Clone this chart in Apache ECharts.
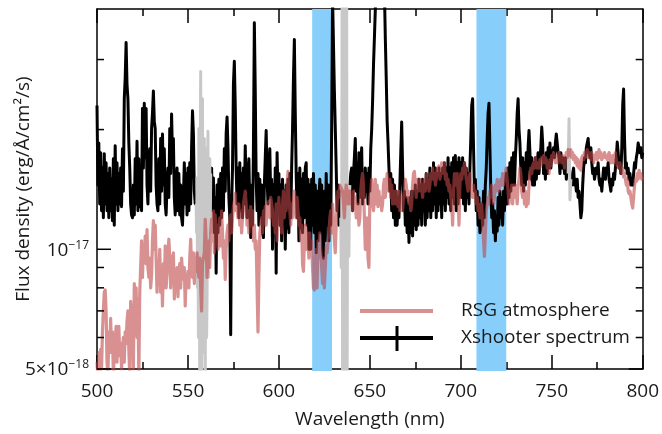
<!DOCTYPE html>
<html><head><meta charset="utf-8">
<script src="https://cdn.jsdelivr.net/npm/echarts@6/dist/echarts.min.js"></script>
<style>html,body{margin:0;padding:0;background:#fff}#c{width:662px;height:434px}</style>
</head><body><div id="c"></div>
<script>
// Wavelength grid (nm): 500 to 800 in 0.5 nm steps
const waveStart = 500;
const waveStep = 0.5;

// Xshooter spectrum, flux in units of 1e-17 erg/Å/cm²/s (null = masked region)
const xshooterFlux = [
2.30,1.45,1.85,1.30,1.75,1.25,1.60,1.20,1.74,1.30,
1.65,1.25,1.55,1.20,1.60,1.25,1.50,1.18,1.69,1.15,
1.82,1.30,1.65,1.25,1.55,1.30,1.60,1.28,1.79,1.40,
2.39,2.70,3.31,2.60,2.39,1.85,1.60,1.30,1.22,1.20,
1.45,1.22,1.69,1.30,1.87,1.25,1.69,1.28,1.60,1.25,
2.26,1.60,2.33,1.70,2.26,1.45,1.30,1.65,1.79,1.40,
2.01,2.20,2.50,2.10,2.01,1.45,1.30,1.25,1.69,1.30,
1.90,1.40,1.95,1.45,1.79,1.30,1.22,1.45,1.60,1.35,
2.01,1.55,2.19,1.70,1.90,1.35,1.22,1.45,1.60,1.25,
1.55,1.22,1.45,1.20,1.15,1.35,1.65,1.30,1.55,1.22,
1.60,1.25,1.65,1.30,1.80,2.23,1.95,1.40,1.30,1.30,
null,null,null,null,null,null,null,null,null,null,
null,null,null,null,null,1.55,1.60,1.25,1.51,1.10,
1.35,0.87,1.45,1.10,1.50,1.15,1.55,1.20,1.60,1.25,
1.79,1.40,1.95,2.15,1.80,1.35,1.20,0.61,1.30,1.60,
2.60,2.97,2.30,1.60,1.30,1.60,1.20,1.65,1.25,1.55,
1.20,1.60,1.30,1.82,1.40,1.20,1.55,1.69,1.25,1.07,
1.45,1.15,1.80,3.71,2.50,1.50,1.25,1.55,1.15,1.50,
1.20,1.45,1.10,1.07,1.45,1.70,1.99,1.50,1.30,1.60,
1.79,1.35,1.50,1.00,1.45,1.20,1.60,0.87,1.75,1.35,
1.55,1.15,1.45,1.05,1.50,1.20,1.40,1.00,1.45,1.13,
1.50,1.10,1.55,1.20,1.60,2.00,2.70,3.37,2.20,1.55,
1.20,1.55,1.05,1.60,1.13,1.50,1.10,1.55,1.20,1.60,
1.65,1.15,1.50,1.00,1.45,1.00,1.50,1.15,1.55,1.10,
1.45,0.98,1.40,1.05,1.35,1.50,1.10,1.45,1.00,0.95,
1.40,1.05,1.55,1.15,1.45,1.05,1.45,1.15,2.00,4.30,
4.30,2.50,2.01,1.60,1.25,1.45,1.15,1.40,1.20,null,
null,null,null,null,null,null,null,null,1.45,1.55,
1.60,1.25,1.55,1.70,1.90,1.40,1.65,1.30,1.75,1.35,
1.60,1.80,1.30,1.55,1.35,1.60,1.40,1.55,1.30,1.60,
1.40,1.79,2.00,2.35,2.90,3.40,4.00,4.80,5.80,7.00,
8.50,9.50,9.50,9.00,7.50,6.00,4.50,3.40,2.70,2.10,
1.85,1.60,1.40,1.55,1.25,1.50,1.20,1.45,1.15,1.40,
1.15,1.35,1.20,1.45,1.75,2.09,1.60,1.25,1.40,1.15,
1.35,1.10,1.30,1.04,1.35,1.10,1.40,1.08,1.40,1.15,
1.45,1.12,1.40,1.15,1.50,1.20,1.45,1.15,1.50,1.25,
1.45,1.15,1.55,1.20,1.50,1.25,1.60,1.20,1.55,1.25,
1.65,1.30,1.60,1.20,1.55,1.25,1.60,1.30,1.55,1.20,
1.60,1.30,1.65,1.25,1.60,1.35,1.70,1.30,1.60,1.25,
1.65,1.35,1.70,1.30,1.72,1.25,1.65,1.30,1.70,1.35,
1.65,1.35,1.70,1.30,1.65,1.25,1.60,1.35,1.55,1.30,
1.60,1.90,2.30,2.39,1.80,1.40,1.50,1.25,1.40,1.15,
1.35,1.10,1.13,1.30,1.15,1.40,1.20,1.45,1.60,1.90,
2.20,2.33,1.80,1.40,1.20,1.30,1.10,1.25,1.05,1.20,
1.11,1.35,1.15,1.40,1.20,1.35,1.15,1.40,1.25,1.45,
1.55,1.30,1.60,1.35,1.65,1.40,1.70,1.45,1.75,1.45,
1.70,1.90,2.20,2.39,2.00,1.85,1.60,1.45,1.70,1.40,
1.65,1.45,1.75,1.50,1.80,1.99,1.75,1.50,1.70,1.45,
1.65,1.45,1.70,1.50,1.65,1.75,1.55,1.70,1.80,2.03,
1.85,1.55,1.70,1.50,1.75,1.55,1.80,1.60,1.85,1.60,
1.70,1.75,1.80,1.70,1.85,1.95,1.93,1.75,1.70,1.55,
1.75,1.60,1.70,1.65,1.55,1.70,1.50,1.60,1.55,null,
null,1.50,1.45,1.55,1.60,1.45,1.50,1.40,1.50,1.35,
1.40,1.30,1.20,1.25,1.45,1.60,1.70,1.65,1.80,1.85,
1.90,1.75,1.70,1.80,1.65,1.55,1.60,1.50,1.55,1.60,
1.55,1.65,1.50,1.45,1.50,1.40,1.50,1.60,1.55,1.50,
1.60,1.55,1.65,1.50,1.45,1.40,1.50,1.45,1.55,1.50,
1.60,1.70,1.86,1.75,1.60,1.65,1.55,1.80,2.30,2.53,
1.90,1.60,1.65,1.55,1.60,1.50,1.55,1.45,1.50,1.45,
1.55,1.65,1.60,1.70,1.75,1.85,1.86,1.75,1.80,1.70,
1.75];

// Masked (grey) parts of the Xshooter spectrum (null separates segments)
const maskedWave = [
  554.5,554.75,555,555.25,555.5,555.75,556,556.25,556.5,556.75,557,557.25,557.5,557.75,558,558.25,
  558.5,558.75,559,559.25,559.5,559.75,560,560.25,560.5,560.75,561,561.25,561.5,561.75,562,562.25,562.5,
  600,
  634,634.25,634.5,634.75,635,635.25,635.5,635.75,636,636.25,636.5,636.75,637,637.25,637.5,637.75,
  638,638.25,638.5,638.75,639,
  700,
  759,759.5,760,760.5];
const maskedFlux = [
  1.30,1.10,1.51,0.80,1.20,0.60,2.01,0.90,0.45,1.60,2.80,1.20,0.45,1.50,2.39,0.70,
  0.55,1.40,1.90,0.80,0.45,1.30,1.79,0.60,0.76,1.50,1.98,0.85,1.00,1.60,1.69,1.10,1.55,
  null,
  1.20,0.90,1.00,4.50,0.45,4.50,0.45,4.50,0.45,4.50,0.45,4.50,0.45,4.50,0.45,1.40,
  0.96,1.30,0.96,1.35,1.45,
  null,
  1.55,2.13,1.33,1.50];

// RSG atmosphere model, same grid and units
const rsgFlux = [
0.52,0.48,0.55,0.47,0.56,0.50,0.62,0.70,0.78,0.79,
0.70,0.52,0.48,0.62,0.55,0.67,0.55,0.62,0.48,0.55,
0.58,0.64,0.52,0.60,0.64,0.54,0.58,0.50,0.56,0.60,
0.52,0.62,0.58,0.66,0.70,0.56,0.48,0.74,0.60,0.72,
0.50,0.82,0.70,0.80,0.60,0.75,0.48,0.78,0.90,1.05,
0.85,1.02,0.95,1.08,0.92,1.12,0.90,0.85,0.95,0.80,
0.86,1.05,1.18,1.00,1.15,0.95,0.78,0.90,0.85,1.00,
0.78,0.88,0.72,0.92,0.80,1.02,0.80,0.88,0.98,1.06,
0.95,0.80,0.96,0.85,0.98,0.75,0.88,0.80,0.90,0.76,
0.88,0.92,0.80,0.95,0.88,0.84,0.90,0.72,0.86,0.82,
0.88,0.80,0.95,1.06,0.90,0.85,0.98,0.82,0.95,0.88,
0.98,0.90,0.85,0.95,0.80,0.70,0.92,0.92,0.98,1.19,
1.05,0.85,0.95,1.05,0.90,1.10,1.19,1.05,1.25,0.98,
1.22,1.05,1.15,1.00,1.10,1.20,1.02,1.25,1.10,0.95,
1.05,0.84,1.00,1.10,1.15,1.05,1.18,1.22,1.10,1.20,
1.28,1.32,1.38,1.25,1.30,1.20,1.30,1.15,1.25,1.10,
1.20,1.30,1.35,1.40,1.30,1.15,1.25,1.10,1.20,1.28,
1.15,1.25,1.05,1.15,1.00,1.05,0.80,0.62,0.85,1.10,
1.15,1.20,1.10,1.25,1.20,1.28,1.15,1.30,1.25,1.32,
1.20,1.35,1.30,1.25,1.15,1.20,1.10,1.30,1.05,1.25,
1.35,1.15,1.28,1.10,1.30,1.40,1.20,1.35,1.25,1.45,
1.57,1.35,1.25,1.15,1.30,1.20,1.35,1.40,1.30,1.20,
1.35,1.25,1.15,1.20,1.05,1.15,0.92,0.88,1.05,1.15,
1.00,1.10,1.05,0.95,1.10,0.98,1.05,0.90,0.80,0.79,
0.95,1.00,0.80,1.05,0.95,1.10,1.00,0.90,0.82,0.95,
0.80,0.90,1.02,0.98,1.05,1.10,1.20,1.25,1.10,1.30,
1.20,1.05,0.98,1.15,1.30,1.40,1.35,1.45,1.45,1.45,
1.40,1.30,1.20,1.35,1.45,1.40,1.30,1.35,1.40,1.30,
1.35,1.25,1.40,1.30,1.35,1.20,1.30,1.25,1.15,1.20,
1.40,1.50,1.55,1.45,1.20,1.00,1.05,1.20,0.95,0.90,
1.35,1.40,1.50,1.30,1.25,1.35,1.50,1.30,1.45,1.28,
1.40,1.30,1.35,1.25,1.30,1.45,1.50,1.35,1.45,1.55,
1.45,1.40,1.50,1.35,1.45,1.30,1.40,1.35,1.30,1.40,
1.35,1.28,1.40,1.25,1.35,1.30,1.25,1.35,1.40,1.50,
1.45,1.35,1.40,1.30,1.35,1.25,1.30,1.45,1.55,1.57,
1.45,1.35,1.50,1.40,1.45,1.50,1.40,1.45,1.35,1.45,
1.50,1.40,1.55,1.45,1.50,1.40,1.45,1.55,1.50,1.60,
1.50,1.55,1.45,1.50,1.60,1.55,1.62,1.50,1.55,1.65,
1.60,1.55,1.65,1.50,1.55,1.45,1.50,1.40,1.45,1.35,
1.30,1.15,1.40,1.55,1.50,1.45,1.55,1.40,1.15,1.45,
1.55,1.50,1.60,1.55,1.65,1.60,1.50,1.45,1.40,1.50,
1.55,1.45,1.40,1.35,1.45,1.35,1.40,1.30,1.35,1.25,
1.30,1.20,1.25,1.30,1.15,1.05,0.96,1.10,1.25,1.30,
1.35,1.30,1.40,1.35,1.45,1.40,1.30,1.35,1.45,1.40,
1.50,1.45,1.40,1.45,1.50,1.45,1.55,1.45,1.50,1.55,
1.60,1.50,1.40,1.30,1.40,1.35,1.45,1.30,1.45,1.35,
1.45,1.40,1.30,1.45,1.50,1.60,1.55,1.40,1.35,1.45,
1.30,1.40,1.28,1.35,1.30,1.45,1.55,1.60,1.55,1.62,
1.65,1.60,1.70,1.62,1.60,1.65,1.60,1.68,1.62,1.70,
1.65,1.72,1.65,1.70,1.68,1.60,1.65,1.55,1.68,1.62,
1.72,1.68,1.75,1.70,1.65,1.70,1.72,1.65,1.75,1.68,
1.70,1.65,1.72,1.68,1.60,1.70,1.75,1.70,1.78,1.72,
1.75,1.78,1.70,1.75,1.68,1.72,1.65,1.70,1.62,1.68,
1.60,1.65,1.58,1.70,1.72,1.68,1.75,1.70,1.72,1.78,
1.70,1.75,1.72,1.68,1.75,1.70,1.65,1.72,1.70,1.75,
1.68,1.72,1.78,1.70,1.75,1.68,1.72,1.70,1.75,1.72,
1.70,1.68,1.72,1.75,1.70,1.65,1.68,1.72,1.65,1.70,
1.75,1.68,1.62,1.65,1.60,1.65,1.58,1.55,1.60,1.52,
1.55,1.50,1.45,1.50,1.40,1.38,1.40,1.35,1.30,1.27,
1.35,1.45,1.50,1.48,1.55,1.50,1.58,1.52,1.55,1.50,
1.52];

// Highlighted wavelength bands (nm)
const bandStart = [618.3, 708.6];
const bandEnd = [629.2, 725.0];

// Y ticks (units of 1e-17)
const yTickValues = [0.5, 0.6, 0.7, 0.8, 0.9, 1, 2, 3];
const yLabelValues = [0.5, 1];
const yLabelTexts = ['{b|5×10}{s|−18}', '{b|10}{s|−17}'];

const wavelengths = xshooterFlux.map((_, i) => waveStart + i * waveStep);
const FONT = 'Open Sans';
const TXT = '#1a1a1a';
const PINK = 'rgba(190,70,70,0.6)';

const chart = echarts.init(document.getElementById('c'), null, {renderer: 'canvas'});

const axisCommon = {
  type: 'value', min: 500, max: 800, interval: 50,
  axisLine: {show: true, onZero: false, lineStyle: {color: '#000', width: 1.5}},
  axisTick: {show: true, inside: true, length: 14, lineStyle: {color: '#000', width: 1.5}},
  minorTick: {show: true, splitNumber: 2, length: 7, lineStyle: {color: '#000', width: 1.5}},
  splitLine: {show: false}, minorSplitLine: {show: false}
};
const yCommon = {
  type: 'log', logBase: 10, min: 0.5, max: 4.02,
  axisLine: {show: true, onZero: false, lineStyle: {color: '#000', width: 1.5}},
  axisTick: {show: false}, axisLabel: {show: false},
  splitLine: {show: false}, minorTick: {show: false}, minorSplitLine: {show: false}
};

chart.setOption({
  animation: false,
  backgroundColor: '#fff',
  grid: {left: 97, right: 11, top: 9, bottom: 61, containLabel: false},
  xAxis: [
    Object.assign({}, axisCommon, {
      position: 'bottom',
      axisLabel: {fontSize: 19, fontFamily: FONT, color: TXT, margin: 13},
      name: 'Wavelength (nm)', nameLocation: 'middle', nameGap: 41,
      nameTextStyle: {fontSize: 19, fontFamily: FONT, color: TXT}
    }),
    Object.assign({}, axisCommon, {position: 'top', axisLabel: {show: false}})
  ],
  yAxis: [
    Object.assign({}, yCommon, {
      position: 'left',
      name: 'Flux density (erg/Å/cm²/s)', nameLocation: 'middle', nameGap: 64,
      nameTextStyle: {fontSize: 19, fontFamily: FONT, color: TXT}
    }),
    Object.assign({}, yCommon, {position: 'right'})
  ],
  series: [
    {
      type: 'custom', name: 'bands', coordinateSystem: 'cartesian2d', z: 1, silent: true,
      data: bandStart.map((s, i) => [s, bandEnd[i]]),
      renderItem(params, api) {
        const p0 = api.coord([api.value(0), 4.02]);
        const p1 = api.coord([api.value(1), 0.5]);
        return {type: 'rect', shape: {x: p0[0], y: p0[1], width: p1[0] - p0[0], height: p1[1] - p0[1] + 2},
          style: {fill: '#87cefa'}};
      }
    },
    {
      type: 'line', name: 'Xshooter spectrum', z: 2, showSymbol: false, symbol: 'none',
      connectNulls: false, sampling: null, clip: true,
      data: wavelengths.map((w, i) => [w, xshooterFlux[i]]),
      lineStyle: {color: '#000', width: 3, join: 'round'}
    },
    {
      type: 'line', name: 'masked', z: 3, showSymbol: false, symbol: 'none',
      connectNulls: false, clip: true,
      data: maskedWave.map((w, i) => [w, maskedFlux[i]]),
      lineStyle: {color: '#c8c8c8', width: 3, join: 'round'}
    },
    {
      type: 'line', name: 'RSG atmosphere', z: 4, showSymbol: false, symbol: 'none',
      connectNulls: false, clip: true,
      data: wavelengths.map((w, i) => [w, rsgFlux[i]]),
      lineStyle: {color: PINK, width: 3.2, join: 'round'}
    },
    {
      type: 'custom', name: 'yticks', coordinateSystem: 'cartesian2d', z: 10, silent: true, clip: false,
      data: yTickValues.map(v => [500, v]),
      renderItem(params, api) {
        const v = api.value(1);
        const pL = api.coord([500, v]);
        const pR = api.coord([800, v]);
        const li = yLabelValues.indexOf(v);
        const len = li >= 0 ? 14 : 7;
        const st = {stroke: '#000', lineWidth: 1.5};
        const children = [
          {type: 'line', shape: {x1: pL[0], y1: pL[1], x2: pL[0] + len, y2: pL[1]}, style: st},
          {type: 'line', shape: {x1: pR[0] - len, y1: pR[1], x2: pR[0], y2: pR[1]}, style: st}
        ];
        if (li >= 0) {
          children.push({type: 'text', style: {
            text: yLabelTexts[li], x: pL[0] - 8, y: pL[1] + 1, align: 'right', verticalAlign: 'middle',
            fontFamily: FONT, fill: TXT,
            rich: {
              b: {fontSize: 19, fontFamily: FONT, fill: TXT, lineHeight: 22},
              s: {fontSize: 12, fontFamily: FONT, fill: TXT, verticalAlign: 'top', lineHeight: 12}
            }
          }});
        }
        return {type: 'group', children};
      }
    }
  ],
  graphic: [
    {type: 'line', z: 20, shape: {x1: 360, y1: 311, x2: 433, y2: 311}, style: {stroke: PINK, lineWidth: 4}},
    {type: 'line', z: 20, shape: {x1: 360, y1: 338, x2: 433, y2: 338}, style: {stroke: '#000', lineWidth: 4}},
    {type: 'line', z: 20, shape: {x1: 397, y1: 326, x2: 397, y2: 351}, style: {stroke: '#000', lineWidth: 3}},
    {type: 'text', z: 20, style: {text: 'RSG atmosphere', x: 461, y: 311, verticalAlign: 'middle',
      fontSize: 19, fontFamily: FONT, fill: TXT}},
    {type: 'text', z: 20, style: {text: 'Xshooter spectrum', x: 461, y: 338, verticalAlign: 'middle',
      fontSize: 19, fontFamily: FONT, fill: TXT}}
  ]
});
</script></body></html>
